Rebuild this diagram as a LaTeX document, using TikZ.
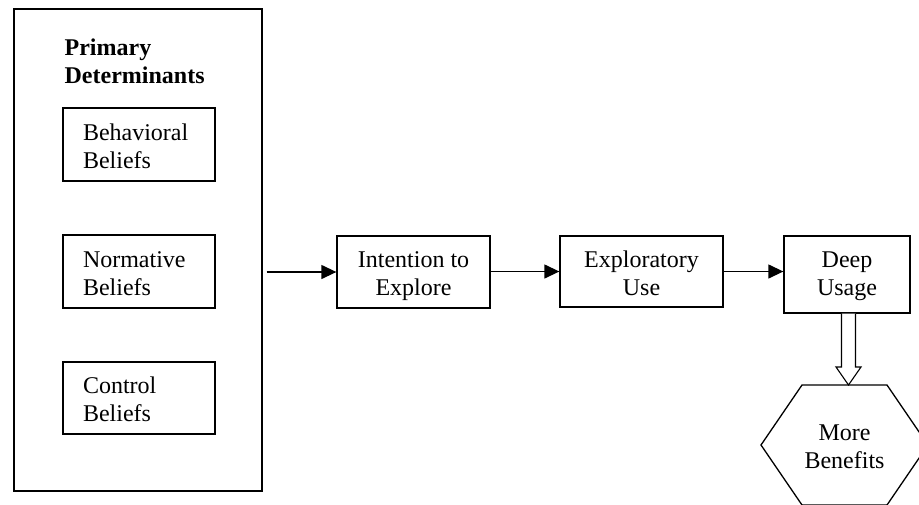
\documentclass[tikz,border=0pt]{standalone}
\usepackage{fontspec}
\setmainfont{Liberation Serif}
\usepackage{tikz}
\usetikzlibrary{arrows.meta}
\usetikzlibrary{positioning}

% two lines of text, with struts that fix where the baselines sit
\newcommand{\twolines}[3][26pt]{\rule{0pt}{#1}#2\\#3\rule[-7pt]{0pt}{7pt}}

\begin{document}
\begin{tikzpicture}[x=1pt,y=-1pt,-{Triangle[length=15pt,width=14pt]},line width=1.3pt,
	every node/.style={font=\fontsize{24}{28}\selectfont},
	belief node/.style={draw, rectangle, text width=112pt, inner xsep=20pt, inner ysep=0pt, minimum height=73pt, align=left},
	main node/.style={draw, rectangle, inner sep=0pt, minimum height=72pt, align=center}]
	
	\useasboundingbox (0,0) rectangle (919,504);
	
	\node[draw, rectangle, minimum width=248pt, minimum height=482pt, inner sep=0pt] (prim) at (138,250) {};
	\node[anchor=west, align=left, inner sep=0pt, font=\fontsize{24}{28}\selectfont\bfseries] (title) at (64,59.5) {\twolines{Primary}{Determinants}};
	\node[belief node] (beh) at (139,144.5) {\twolines{Behavioral}{Beliefs}};
	\node[belief node] (nor) at (139,271.5) {\twolines{Normative}{Beliefs}};
	\node[belief node, minimum height=72pt] (con) at (139,398) {\twolines{Control}{Beliefs}};
	
	\node[main node, minimum width=153pt] (int) at (413.5,272) {\twolines[25pt]{Intention to}{Explore}};
	\node[main node, minimum width=163pt, minimum height=71pt] (exp) at (641.5,271.5) {\twolines{Exploratory}{Use}};
	\node[main node, minimum width=126pt, minimum height=77pt] (deep) at (847,274.5) {\twolines[21pt]{Deep}{Usage}};
	\node[align=center, inner sep=0pt] (ben) at (844.5,444.5) {\twolines{More}{Benefits}};
	
	% hexagon
	\draw[-] (802,385) -- (887,385) -- (928,445) -- (887,505) -- (802,505) -- (761,445) -- cycle;
	
	\draw[shorten <=4pt] (prim.east |- int.west) -- (int.west);
	\draw (int.east |- exp.west) -- (exp.west);
	\draw (exp.east) -- (deep.west |- exp.east);
	
	% hollow arrow
	\draw[-, line width=1.1pt, fill=white] (deep.south -| 841.5,0) -- (841.5,367) -- (836,367) -- (848.5,385) -- (861,367) -- (855.5,367) -- (deep.south -| 855.5,0);
	
\end{tikzpicture}
\end{document}
